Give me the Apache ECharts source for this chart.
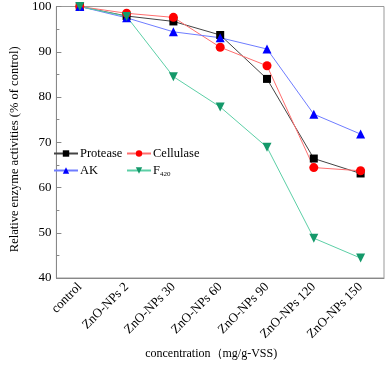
<!DOCTYPE html>
<html lang="en">
<head>
    <meta charset="UTF-8">
    <title>enzyme activities</title>
    <style>html, body { margin: 0; padding: 0; background: #fff; }</style>
</head>
<body>
<div id="main" style="width: 387px; height: 365px;"></div>
<script src="https://cdn.jsdelivr.net/npm/echarts@6/dist/echarts.min.js"></script>
<script>
    var categories = ['control', 'ZnO-NPs 2', 'ZnO-NPs 30', 'ZnO-NPs 60', 'ZnO-NPs 90', 'ZnO-NPs 120', 'ZnO-NPs 150'];
    var protease = [100, 97.9, 96.7, 93.7, 84.0, 66.4, 63.1];
    var cellulase = [100, 98.5, 97.6, 91.0, 86.9, 64.4, 63.7];
    var ak = [100, 97.5, 94.4, 93.1, 90.6, 76.2, 71.8];
    var f420 = [100, 97.8, 84.5, 77.8, 68.9, 48.8, 44.4];

    var font = '"Liberation Serif", "Times New Roman", serif';
    var myChart = echarts.init(document.getElementById('main'));

    function line(name, data, symbol, mColor, lColor, size, rot) {
        return {
            name: name,
            type: 'line',
            data: data,
            symbol: symbol,
            symbolSize: size,
            symbolRotate: rot || 0,
            itemStyle: { color: mColor },
            lineStyle: { color: lColor, width: 1 },
            z: 3
        };
    }

    var legendCommon = {
        orient: 'vertical',
        padding: 0,
        itemWidth: 24,
        itemHeight: 8,
        itemGap: 4,
        textStyle: {
            fontFamily: font, fontSize: 12.5, color: '#000', padding: [0, 0, 0, -3],
            rich: { sub: { fontSize: 7, fontFamily: font, padding: [8, 0, 0, 0] } }
        },
        formatter: function (n) { return n === 'F420' ? 'F{sub|420}' : n; }
    };

    var option = {
        animation: false,
        textStyle: { fontFamily: font },
        grid: { left: 42, right: 3, top: 6, bottom: 78, show: true, borderColor: '#999', borderWidth: 1 },
        legend: [
            Object.assign({ left: 53, top: 147, data: ['Protease', 'AK'] }, legendCommon),
            Object.assign({ left: 126, top: 147, data: ['Cellulase', 'F420'] }, legendCommon)
        ],
        xAxis: [{
            type: 'category',
            data: categories,
            boundaryGap: true,
            name: 'concentration\uff08mg/g-VSS)',
            nameLocation: 'middle',
            nameGap: 70,
            nameTextStyle: { fontFamily: font, fontSize: 12, color: '#000', padding: [0, 18, 0, 0] },
            axisLine: { lineStyle: { color: '#888' } },
            axisTick: { alignWithLabel: true, inside: true, length: 5, lineStyle: { color: '#888' } },
            axisLabel: { rotate: 45, fontFamily: font, fontSize: 13, color: '#000', margin: 7 }
        }, {
            type: 'category',
            data: categories,
            position: 'bottom',
            boundaryGap: true,
            axisLine: { show: false },
            axisTick: { inside: true, length: 3, lineStyle: { color: '#888' } },
            axisLabel: { show: false }
        }],
        yAxis: {
            type: 'value',
            min: 40,
            max: 100,
            interval: 10,
            name: 'Relative enzyme activities (% of control)',
            nameLocation: 'middle',
            nameGap: 30,
            nameTextStyle: { fontFamily: font, fontSize: 12.5, color: '#000', padding: [0, 14, 0, 0] },
            axisLine: { show: true, lineStyle: { color: '#888' } },
            axisTick: { show: true, inside: true, length: 5, lineStyle: { color: '#888' } },
            minorTick: { show: true, splitNumber: 2, length: 3, lineStyle: { color: '#888' } },
            splitLine: { show: false },
            axisLabel: { fontFamily: font, fontSize: 13, color: '#000', margin: 5 }
        },
        series: [
            line('Protease', protease, 'rect', '#000000', '#444444', 8),
            line('Cellulase', cellulase, 'circle', '#ff0000', '#ff6e6e', 9),
            line('AK', ak, 'triangle', '#0000ff', '#6e7cff', 9),
            line('F420', f420, 'triangle', '#14996a', '#5ccfa6', 9, 180)
        ]
    };
    myChart.setOption(option);
</script>
</body>
</html>
